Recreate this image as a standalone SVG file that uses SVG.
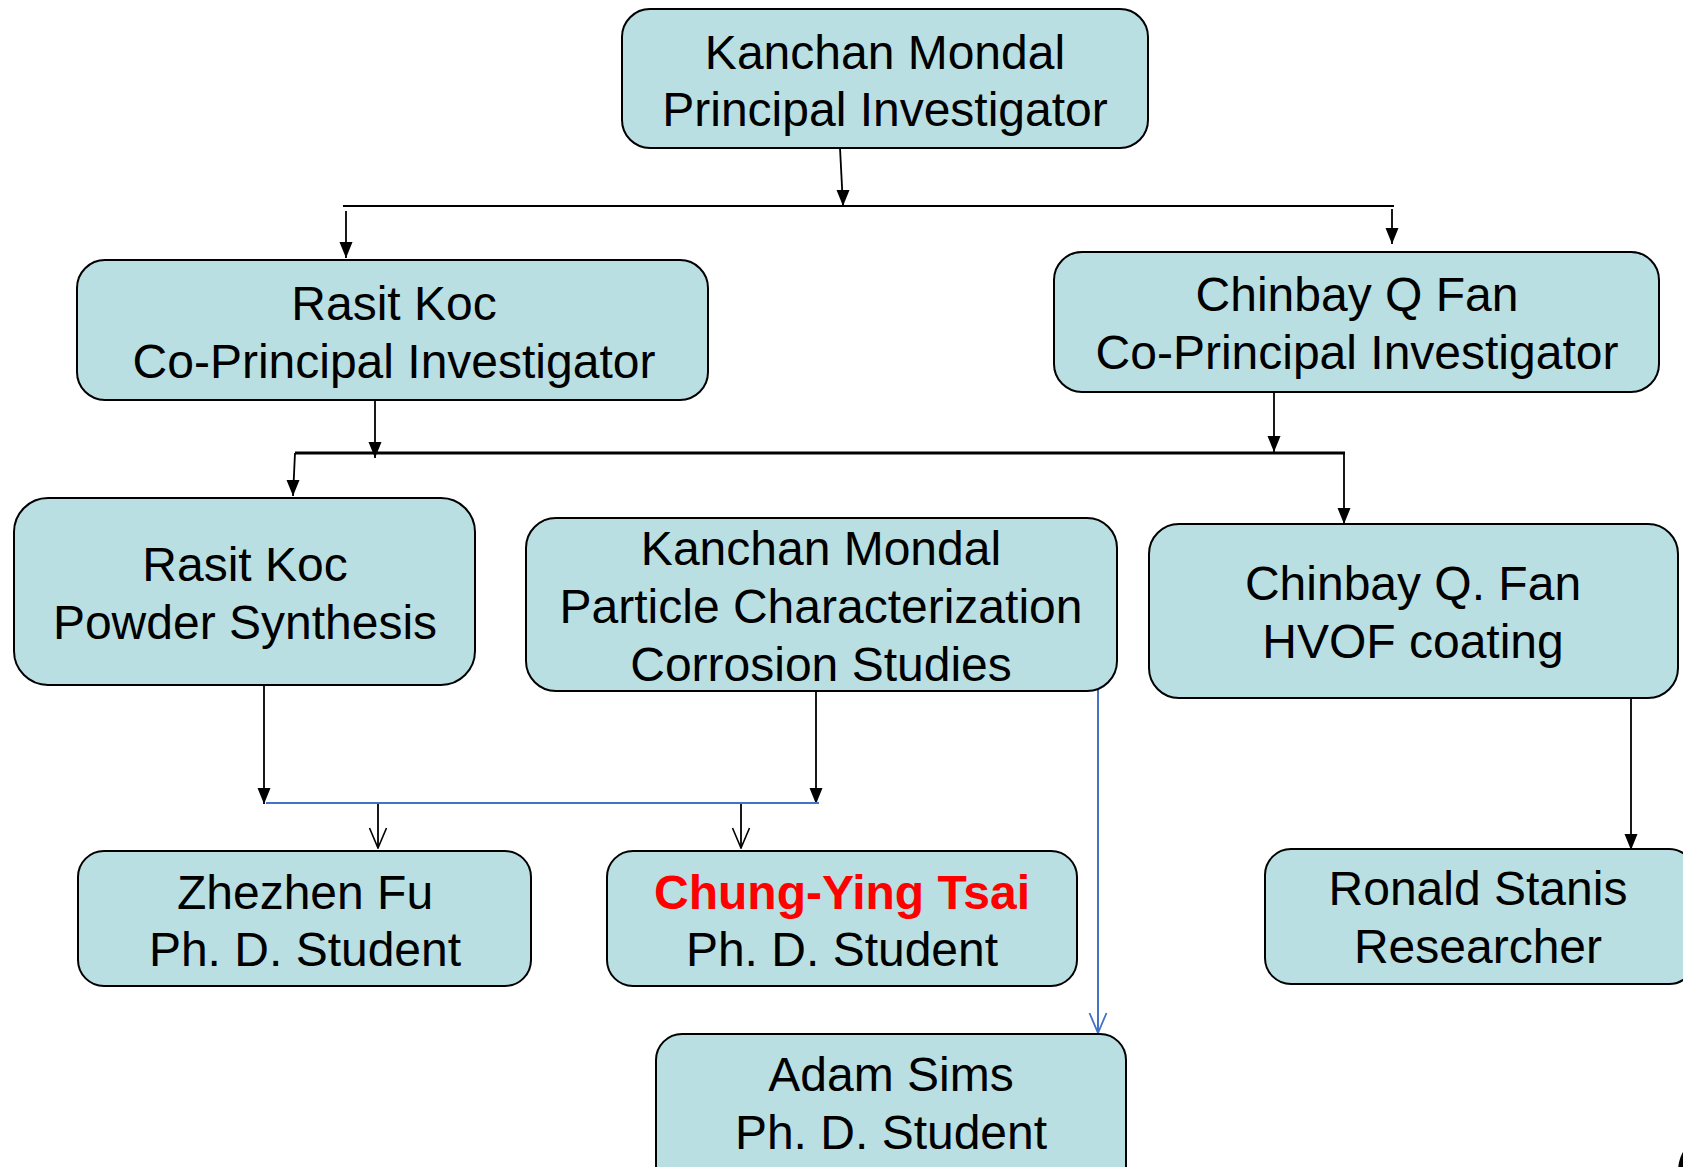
<svg xmlns="http://www.w3.org/2000/svg" width="1683" height="1167" viewBox="0 0 1683 1167">
<style>
.box{fill:#B9DFE2;stroke:#000;stroke-width:2}
.t{font-family:"Liberation Sans",Arial,sans-serif;font-size:48px;fill:#000;text-anchor:middle}
.red{fill:#FF0000;font-weight:bold}
.k{stroke:#000;stroke-width:1.8;fill:none}
.kt{stroke:#000;stroke-width:2.8;fill:none}
.b{stroke:#4472C4;stroke-width:2;fill:none}
</style>
<defs>
<marker id="fd" viewBox="-7 -16 14 16" refX="0" refY="0" markerWidth="14" markerHeight="16" markerUnits="userSpaceOnUse" orient="0">
<path d="M-6.5,-16 L6.5,-16 L0,0 Z" fill="#000"/>
</marker>
<marker id="ok" viewBox="-10 -21 20 22" refX="0" refY="0" markerWidth="20" markerHeight="22" markerUnits="userSpaceOnUse" orient="0">
<path d="M-8.5,-20 L0,0 L8.5,-20" fill="none" stroke="#000" stroke-width="1.6"/>
</marker>
<marker id="ob" viewBox="-10 -21 20 22" refX="0" refY="0" markerWidth="20" markerHeight="22" markerUnits="userSpaceOnUse" orient="0">
<path d="M-8.5,-20 L0,0 L8.5,-20" fill="none" stroke="#4472C4" stroke-width="1.8"/>
</marker>
</defs>

<g id="connectors">
<line class="k" x1="840" y1="148" x2="843" y2="206" marker-end="url(#fd)"/>
<line class="k" x1="343" y1="206" x2="1394" y2="206"/>
<line class="k" x1="346" y1="211" x2="346" y2="258" marker-end="url(#fd)"/>
<line class="k" x1="1392" y1="209" x2="1392" y2="244" marker-end="url(#fd)"/>
<line class="k" x1="375" y1="398" x2="375" y2="458" marker-end="url(#fd)"/>
<line class="kt" x1="295" y1="453" x2="1345" y2="453"/>
<line class="k" x1="295" y1="453" x2="293" y2="496" marker-end="url(#fd)"/>
<line class="k" x1="1274" y1="392" x2="1274" y2="452" marker-end="url(#fd)"/>
<line class="k" x1="1344" y1="453" x2="1344" y2="524" marker-end="url(#fd)"/>
<line class="k" x1="264" y1="685" x2="264" y2="804" marker-end="url(#fd)"/>
<line class="k" x1="816" y1="687" x2="816" y2="804" marker-end="url(#fd)"/>
<line class="b" x1="266" y1="803" x2="819" y2="803"/>
<line class="k" x1="378" y1="804" x2="378" y2="848" marker-end="url(#ok)"/>
<line class="k" x1="741" y1="804" x2="741" y2="848" marker-end="url(#ok)"/>
<line class="b" x1="1098" y1="684" x2="1098" y2="1033" marker-end="url(#ob)"/>
<line class="k" x1="1631" y1="698" x2="1631" y2="850" marker-end="url(#fd)"/>
</g>

<g id="n-top">
<rect class="box" x="622" y="9" width="526" height="139" rx="28"/>
<text class="t" x="885" y="69">Kanchan Mondal</text>
<text class="t" x="885" y="126">Principal Investigator</text>
</g>
<g id="n-koc-copi">
<rect class="box" x="77" y="260" width="631" height="140" rx="28"/>
<text class="t" x="394" y="320">Rasit Koc</text>
<text class="t" x="394" y="378">Co-Principal Investigator</text>
</g>
<g id="n-fan-copi">
<rect class="box" x="1054" y="252" width="605" height="140" rx="28"/>
<text class="t" x="1357" y="311">Chinbay Q Fan</text>
<text class="t" x="1357" y="369">Co-Principal Investigator</text>
</g>
<g id="n-koc-powder">
<rect class="box" x="14" y="498" width="461" height="187" rx="34"/>
<text class="t" x="245" y="581">Rasit Koc</text>
<text class="t" x="245" y="639">Powder Synthesis</text>
</g>
<g id="n-mondal-particle">
<rect class="box" x="526" y="518" width="591" height="173" rx="30"/>
<text class="t" x="821" y="565">Kanchan Mondal</text>
<text class="t" x="821" y="623">Particle Characterization</text>
<text class="t" x="821" y="681">Corrosion Studies</text>
</g>
<g id="n-fan-hvof">
<rect class="box" x="1149" y="524" width="529" height="174" rx="30"/>
<text class="t" x="1413" y="600">Chinbay Q. Fan</text>
<text class="t" x="1413" y="658">HVOF coating</text>
</g>
<g id="n-fu">
<rect class="box" x="78" y="851" width="453" height="135" rx="26"/>
<text class="t" x="305" y="909">Zhezhen Fu</text>
<text class="t" x="305" y="966">Ph. D. Student</text>
</g>
<g id="n-tsai">
<rect class="box" x="607" y="851" width="470" height="135" rx="26"/>
<text class="t red" x="842" y="909">Chung-Ying Tsai</text>
<text class="t" x="842" y="966">Ph. D. Student</text>
</g>
<g id="n-stanis">
<rect class="box" x="1265" y="849" width="430" height="135" rx="26"/>
<text class="t" x="1478" y="905">Ronald Stanis</text>
<text class="t" x="1478" y="963">Researcher</text>
</g>
<g id="n-sims">
<rect class="box" x="656" y="1034" width="470" height="160" rx="26"/>
<text class="t" x="891" y="1091">Adam Sims</text>
<text class="t" x="891" y="1149">Ph. D. Student</text>
</g>
<ellipse cx="1692" cy="1172" rx="14" ry="26" fill="#000"/>
</svg>
